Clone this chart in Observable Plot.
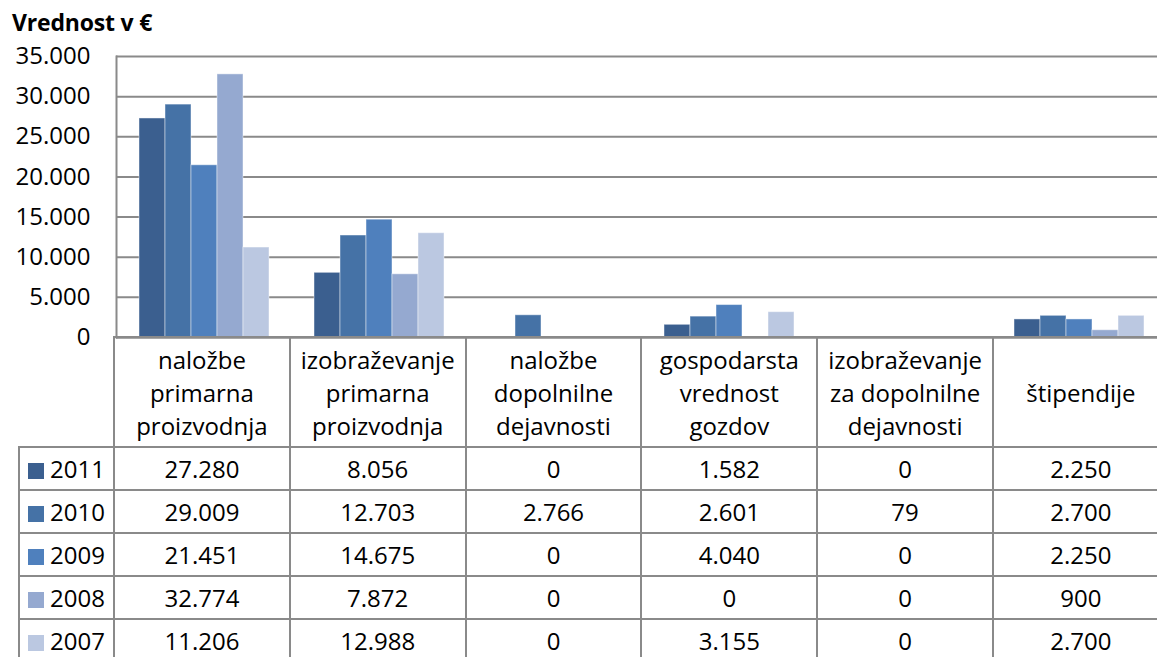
<!DOCTYPE html>
<html><head><meta charset="utf-8">
<script src="https://cdn.jsdelivr.net/npm/d3@7"></script>
<script src="https://cdn.jsdelivr.net/npm/@observablehq/plot@0.6"></script>
<style>
html,body{margin:0;padding:0;background:#fff;overflow:hidden}
#wrap{position:relative;width:1157px;height:657px;overflow:hidden;font-family:"Open Sans",sans-serif;color:#000}
#title{position:absolute;left:12px;top:9px;font-weight:bold;font-size:23px;line-height:26px;white-space:nowrap;letter-spacing:-0.2px}
#chart{position:absolute;left:0;top:0;width:1168px}
#chart svg{max-width:none !important}
#tbl{position:absolute;left:18px;top:336px;width:1150px;border-collapse:collapse;table-layout:fixed;font-size:24px}
#tbl td{border:2px solid #8a8a8a;text-align:center;padding:0;vertical-align:middle;white-space:nowrap;overflow:visible}
#tbl tr.head td{height:108px;line-height:33px;white-space:pre-line}
#tbl tr.head td.blank{border-top:none;border-left:none}
#tbl tr.row td{height:41px;line-height:41px}
#tbl td.leg{text-align:left;padding-left:8px}
#tbl .sw{display:inline-block;width:16px;height:16px;margin-right:6px;vertical-align:-1px}
</style></head>
<body>
<div id="wrap">
  <div id="chart"></div>
  <div id="title">Vrednost v €</div>
  <table id="tbl"></table>
</div>
<script>
// ---- data ----
const categories = [
  "naložbe\nprimarna\nproizvodnja",
  "izobraževanje\nprimarna\nproizvodnja",
  "naložbe\ndopolnilne\ndejavnosti",
  "gospodarsta\nvrednost\ngozdov",
  "izobraževanje\nza dopolnilne\ndejavnosti",
  "štipendije"
];
const years = ["2011", "2010", "2009", "2008", "2007"];
const v2011 = [27280, 8056, 0, 1582, 0, 2250];
const v2010 = [29009, 12703, 2766, 2601, 79, 2700];
const v2009 = [21451, 14675, 0, 4040, 0, 2250];
const v2008 = [32774, 7872, 0, 0, 0, 900];
const v2007 = [11206, 12988, 0, 3155, 0, 2700];
const colors = ["#3b5f8f", "#4572a6", "#4f80bd", "#95a9d0", "#bbc8e1"];
const yTicks = [0, 5000, 10000, 15000, 20000, 25000, 30000, 35000];

const seriesValues = [v2011, v2010, v2009, v2008, v2007];
const fmt = d3.formatLocale({decimal: ",", thousands: ".", grouping: [3], currency: ["", "€"]}).format(",");

const data = [];
years.forEach((yr, i) => categories.forEach((c, j) => data.push({category: c, year: yr, value: seriesValues[i][j]})));

const grid = "#8a8a8a";
const chart = Plot.plot({
  width: 1168, height: 340,
  marginTop: 56, marginBottom: 3, marginLeft: 114, marginRight: 0,
  style: {fontFamily: "Open Sans", fontSize: "24px", color: "#000", background: "transparent", overflow: "visible", maxWidth: "none"},
  fx: {domain: categories, padding: 0, axis: null, label: null},
  x: {domain: years, paddingInner: 0, paddingOuter: 0.77, axis: null},
  y: {domain: [0, 35000], label: null},
  color: {domain: years, range: colors},
  marks: [
    Plot.gridY(yTicks, {stroke: grid, strokeOpacity: 1, strokeWidth: 2}),
    Plot.barY(data, {fx: "category", x: "year", y: "value", fill: "year", stroke: "#fff", strokeOpacity: 0.45, strokeWidth: 1}),
    Plot.axisY(yTicks, {tickSize: 0, tickPadding: 26, tickFormat: fmt, fill: "#000", fontSize: 24, label: null}),
    Plot.ruleY([0], {stroke: grid, strokeWidth: 2}),
    Plot.frame({anchor: "left", facetAnchor: "left", stroke: grid, strokeWidth: 2})
  ]
});
document.getElementById("chart").appendChild(chart);

// ---- data table ----
const tbl = document.getElementById("tbl");
const cg = document.createElement("colgroup");
[95, ...categories.map(() => 175.8)].forEach(w => {
  const col = document.createElement("col"); col.style.width = w + "px"; cg.appendChild(col);
});
tbl.appendChild(cg);
const head = document.createElement("tr"); head.className = "head";
const blank = document.createElement("td"); blank.className = "blank"; head.appendChild(blank);
categories.forEach(c => { const td = document.createElement("td"); td.textContent = c; head.appendChild(td); });
tbl.appendChild(head);
years.forEach((yr, i) => {
  const tr = document.createElement("tr"); tr.className = "row";
  const lg = document.createElement("td"); lg.className = "leg";
  const sw = document.createElement("span"); sw.className = "sw"; sw.style.background = colors[i];
  lg.appendChild(sw); lg.appendChild(document.createTextNode(yr));
  tr.appendChild(lg);
  seriesValues[i].forEach(v => { const td = document.createElement("td"); td.textContent = fmt(v); tr.appendChild(td); });
  tbl.appendChild(tr);
});
</script>
</body></html>
